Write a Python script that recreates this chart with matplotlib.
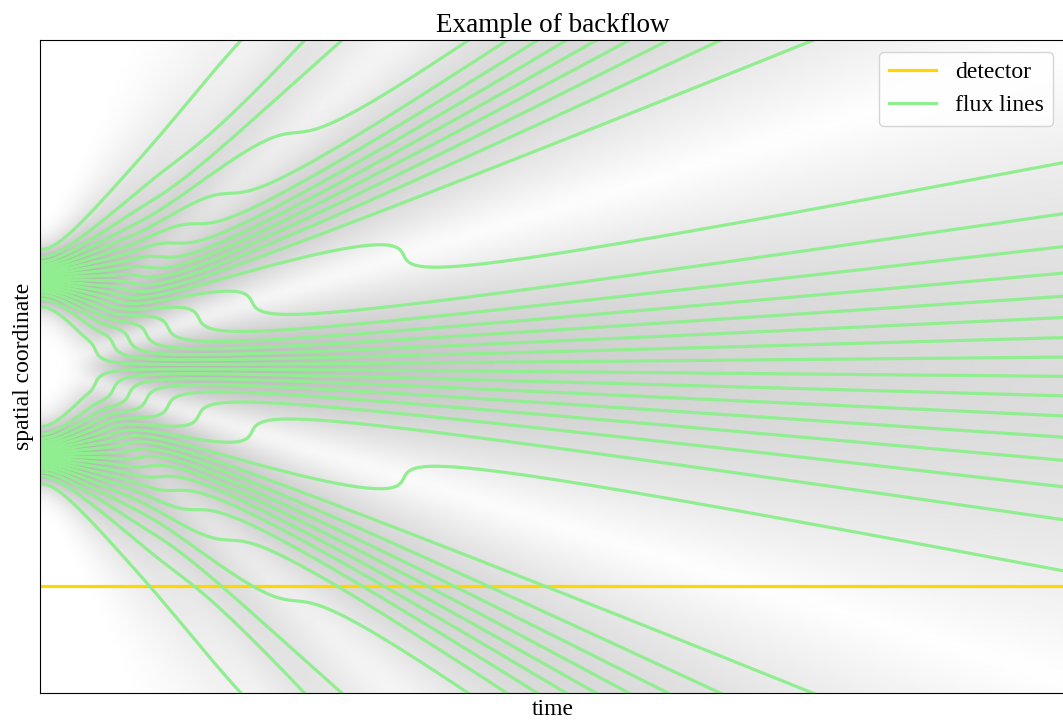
import numpy as np
import matplotlib
matplotlib.use("Agg")
import matplotlib.pyplot as plt

plt.rcParams['font.family'] = ['Liberation Serif', 'DejaVu Serif']

# two gaussian packets at rest (hbar = m = 1)
packet_centers = [6.1, -6.1]
packet_width = 1.0
n_lines = 40
t_end = 84.0
y_limits = [-22.5, 22.5]
detector_pos = -15.1

t = np.linspace(0.0, t_end, 900)
x = np.linspace(-250, 250, 16001)

def psi(x, t):
    s = packet_width
    tau = t / (2 * s**2)
    out = np.zeros((len(t), len(x)), dtype=complex)
    for c in packet_centers:
        d = x[None, :] - c
        fac = 1 + 1j * tau[:, None]
        out += (2 * np.pi * s**2) ** -0.25 / np.sqrt(fac) * np.exp(-d**2 / (4 * s**2 * fac))
    return out / np.sqrt(len(packet_centers))

rho = np.abs(psi(x, t))**2

# flux lines = quantile lines of the density
dx = x[1] - x[0]
cdf = np.cumsum(rho, axis=1) * dx
cdf = cdf / cdf[:, -1:]
q = (np.arange(n_lines) + 0.5) / n_lines
lines = np.array([np.interp(q, c, x) for c in cdf])

fig = plt.figure(figsize=(10.63, 7.27), dpi=100)
ax = fig.add_axes([40/1063, 34/727, 1025/1063, 653/727])

# soft grey shading of the density
view = (x > y_limits[0] - 2) & (x < y_limits[1] + 2)
shade = 1 - 0.45 * (rho[:, view] / rho.max()) ** 0.5
ax.imshow(shade.T, origin='lower', aspect='auto', cmap='gray', vmin=0, vmax=1,
          extent=[t[0], t[-1], x[view][0], x[view][-1]], interpolation='bilinear')

ax.axhline(detector_pos, color='gold', lw=2.3, label='detector')
for k in range(n_lines):
    ax.plot(t, lines[:, k], color='lightgreen', lw=2.3,
            label='flux lines' if k == 0 else None)

ax.set_xlim(0, t_end)
ax.set_ylim(*y_limits)
ax.set_xticks([])
ax.set_yticks([])
ax.set_title('Example of backflow', fontsize=19.5)
ax.set_xlabel('time', fontsize=17)
ax.set_ylabel('spatial coordinate', fontsize=17)
ax.legend(loc='upper right', fontsize=17)

fig.savefig('out.png', dpi=100)
